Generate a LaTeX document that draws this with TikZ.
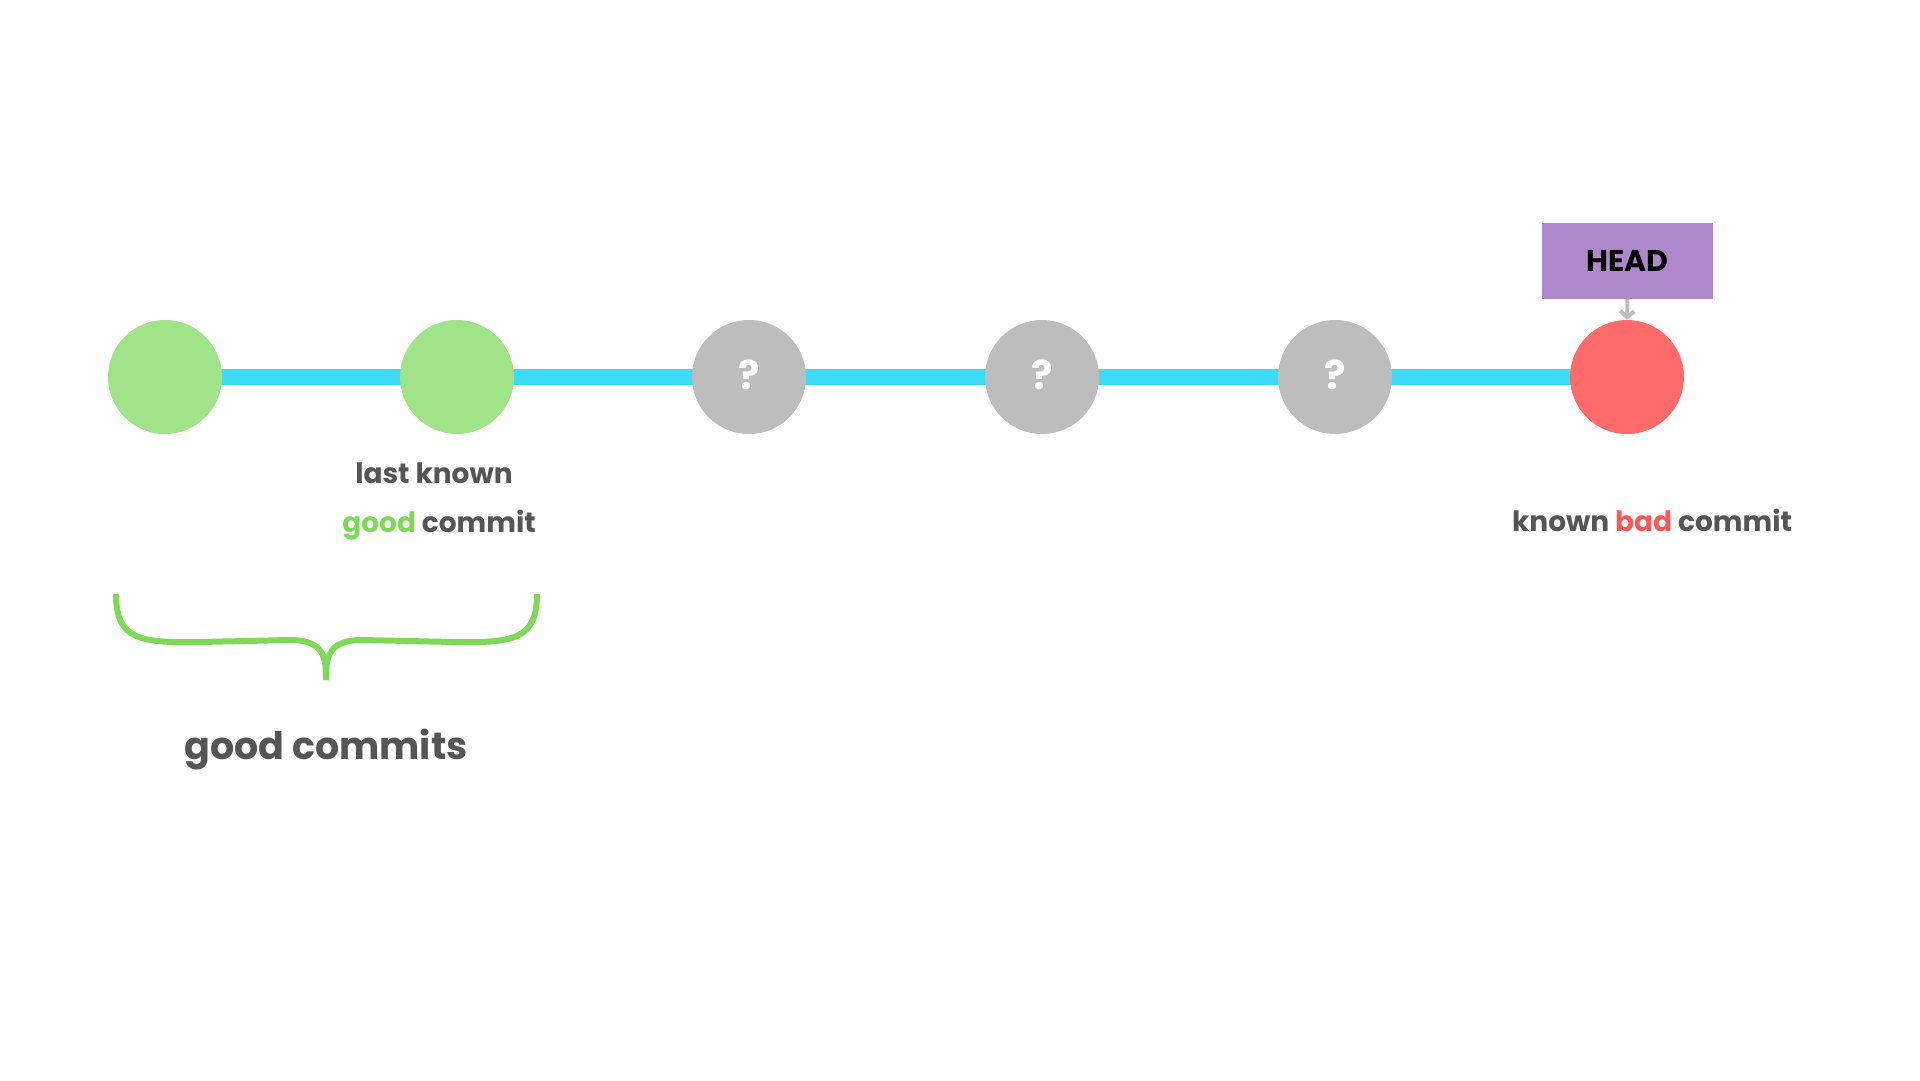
\documentclass[tikz,border=0pt]{standalone}
\usepackage{fontspec}
\setmainfont{Poppins}
\usetikzlibrary{arrows.meta}
\definecolor{cgreen}{HTML}{A0E388}
\definecolor{cblue}{HTML}{3CDCF8}
\definecolor{cgray}{HTML}{BDBDBD}
\definecolor{cred}{HTML}{FF6B6B}
\definecolor{cpurple}{HTML}{AF88CC}
\definecolor{ctext}{HTML}{555555}
\definecolor{tgreen}{HTML}{7ED957}
\definecolor{tred}{HTML}{FF5757}
\begin{document}
\begin{tikzpicture}[x=1pt,y=-1pt,
  commit/.style={circle,minimum size=114pt,inner sep=0pt},
  qm/.style={commit,fill=cgray,text=white,font=\fontsize{40}{40}\selectfont\bfseries},
  lbl/.style={text=ctext,font=\fontsize{28}{34}\selectfont\bfseries}]
\useasboundingbox (0,0) rectangle (1920,1080);
\fill[white] (0,0) rectangle (1920,1080);
\coordinate (p1) at (165,377);
\coordinate (p6) at (1627,377);
\draw[cblue,line width=16pt] (p1) -- (p6);
\node[commit,fill=cgreen] (c1) at (p1) {};
\node[commit,fill=cgreen] (c2) at (457,377) {};
\node[qm] (c3) at (749,377) {\raisebox{4pt}{?}};
\node[qm] (c4) at (1042,377) {\raisebox{4pt}{?}};
\node[qm] (c5) at (1335,377) {\raisebox{4pt}{?}};
\node[commit,fill=cred] (c6) at (p6) {};
\node[fill=cpurple,minimum width=171pt,minimum height=76pt,inner sep=0pt,font=\fontsize{30}{30}\selectfont\bfseries] (head) at (1627.5,261) {HEAD};
\draw[cgray,line width=4pt,-{Straight Barb[length=6pt,width=14pt]}] (head.south) -- (c6.north);
\node[lbl] (l1) at (434,473) {last known};
\node[lbl] (l2) at (439,525) {{\color{tgreen}good} commit};
\node[lbl] (l3) at (1652,520) {known {\color{tred}bad} commit};
\draw[tgreen,line width=6pt] (116,594) .. controls (116,640) and (140,643) .. (200,642) -- (290,640) .. controls (326,640) and (326,660) .. (326,680);
\draw[tgreen,line width=6pt] (537,594) .. controls (537,640) and (513,643) .. (453,642) -- (362,640) .. controls (326,640) and (326,660) .. (326,680);
\node[text=ctext,font=\fontsize{38}{44}\selectfont\bfseries] (gc) at (326,749) {good commits};
\end{tikzpicture}
\end{document}
